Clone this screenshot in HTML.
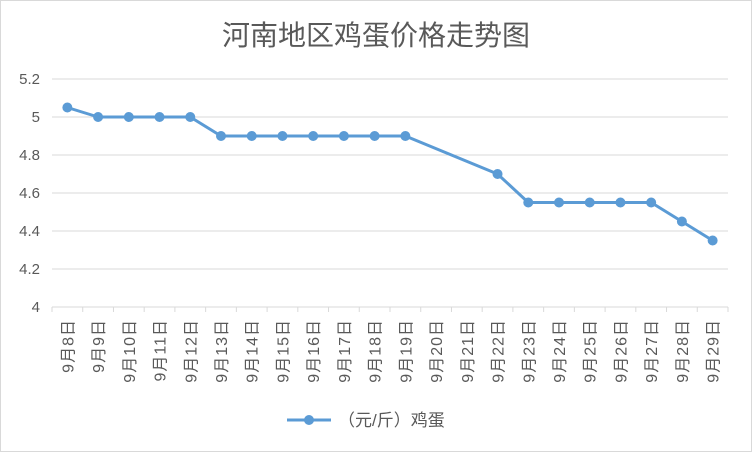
<!DOCTYPE html>
<html><head><meta charset="utf-8"><style>body{margin:0;background:#fff}svg{display:block}</style></head><body>
<svg width="752" height="452" xmlns="http://www.w3.org/2000/svg" font-family="'Liberation Sans','Noto Sans CJK SC',sans-serif">
<rect x="0.5" y="0.5" width="751" height="451" fill="#fff" stroke="#d9d9d9"/>
<text x="376" y="45" text-anchor="middle" font-size="28" fill="#595959">河南地区鸡蛋价格走势图</text>
<g id="grid"></g><g id="xaxis"></g><g id="series"></g>
<g>
<line x1="287" y1="420" x2="331" y2="420" stroke="#5b9bd5" stroke-width="3"/>
<circle cx="309" cy="420" r="5" fill="#5b9bd5"/>
<text x="338" y="426" font-size="17" fill="#595959">（元/斤）鸡蛋</text>
</g>
</svg>
<script>
const categories=["9月8日","9月9日","9月10日","9月11日","9月12日","9月13日","9月14日","9月15日","9月16日","9月17日","9月18日","9月19日","9月20日","9月21日","9月22日","9月23日","9月24日","9月25日","9月26日","9月27日","9月28日","9月29日"];
const prices=[5.05,5,5,5,5,4.9,4.9,4.9,4.9,4.9,4.9,4.9,null,null,4.7,4.55,4.55,4.55,4.55,4.55,4.45,4.35];
const yTicks=[4,4.2,4.4,4.6,4.8,5,5.2];
const yTickLabels=["4","4.2","4.4","4.6","4.8","5","5.2"];
const NS="http://www.w3.org/2000/svg";
const x0=52,x1=728,yBot=307,yTop=79,yMin=4,yMax=5.2;
const step=(x1-x0)/categories.length;
const xs=i=>x0+step*(i+0.5);
const ys=v=>yBot-(v-yMin)/(yMax-yMin)*(yBot-yTop);
function mk(t,a,p){const e=document.createElementNS(NS,t);for(const k in a)e.setAttribute(k,a[k]);p.appendChild(e);return e;}
const g=document.getElementById('grid'),xa=document.getElementById('xaxis'),s=document.getElementById('series');
yTicks.forEach((v,i)=>{
 if(i>0){const l=mk('line',{x1:x0,x2:x1,y1:ys(v),y2:ys(v),stroke:'#d9d9d9'},g);
 
 }
 const t=mk('text',{x:40,y:ys(v)+5,'text-anchor':'end','font-size':'15',fill:'#595959'},g);t.textContent=yTickLabels[i];
 
 
});
const ax=mk('line',{x1:x0,x2:x1,y1:yBot,y2:yBot,stroke:'#d9d9d9'},xa);


for(let i=0;i<=categories.length;i++){const tk=mk('line',{x1:x0+step*i,x2:x0+step*i,y1:yBot,y2:yBot+5,stroke:'#d9d9d9'},xa);
 
 }
categories.forEach((c,i)=>{
 const t=mk('text',{x:0,y:0,transform:`translate(${xs(i)+6},319) rotate(-90)`,'text-anchor':'end','font-size':'16','letter-spacing':'1',fill:'#595959'},xa);t.textContent=c;
 
 
});
let d='';prices.forEach((v,i)=>{if(v==null)return;d+=(d?'L':'M')+xs(i)+','+ys(v);});
const p=mk('path',{d:d,fill:'none',stroke:'#5b9bd5','stroke-width':3,'stroke-linejoin':'round'},s);


prices.forEach((v,i)=>{if(v==null)return;const c=mk('circle',{cx:xs(i),cy:ys(v),r:5,fill:'#5b9bd5'},s);
 
 });
</script>
</body></html>
